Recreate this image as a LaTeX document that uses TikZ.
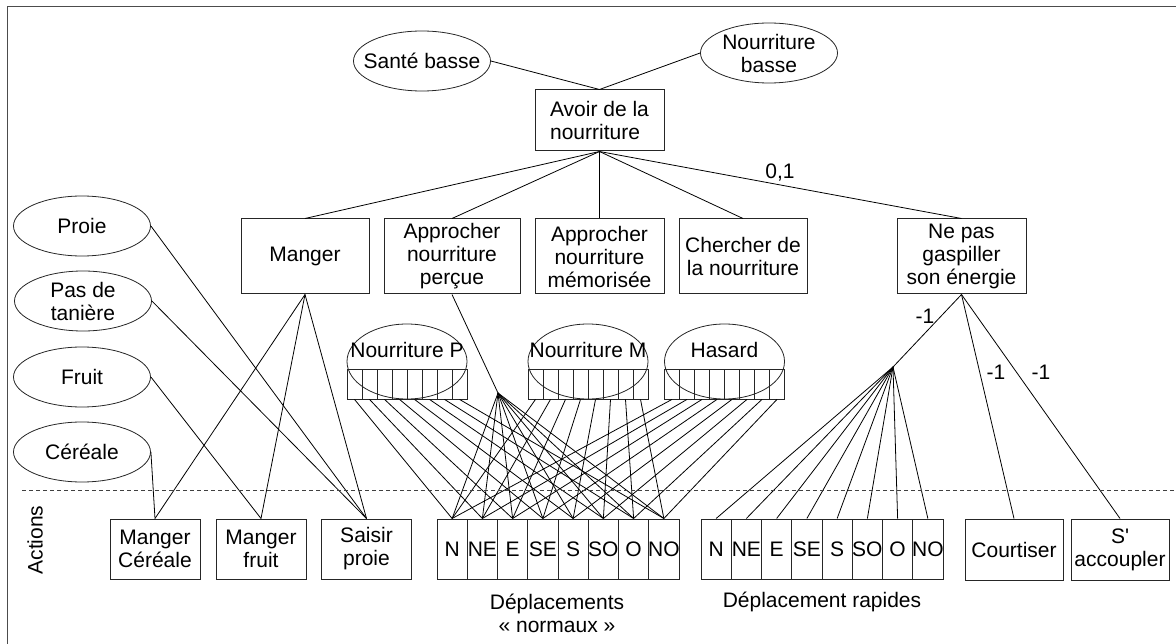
\documentclass[tikz,border=0pt]{standalone}
\usepackage{fontspec}
\setmainfont{Liberation Sans}
\usetikzlibrary{shapes.geometric}
\begin{document}
\begin{tikzpicture}[x=1pt,y=-1pt,
  font=\fontsize{21}{23}\selectfont,
  line width=0.8pt,
  box/.style={draw=black!85, line width=1pt, rectangle, align=center, inner sep=0pt,
    minimum width=128pt, minimum height=75pt},
  abox/.style={draw=black!85, line width=1pt, rectangle, align=center, inner sep=0pt,
    minimum width=90pt, minimum height=60pt},
  dbox/.style={draw=black!85, line width=1pt, rectangle, inner sep=0pt,
    minimum width=30.25pt, minimum height=60pt},
  cell/.style={draw=black!85, line width=0.8pt, rectangle, inner sep=0pt,
    minimum width=15pt, minimum height=30pt},
  oval/.style={draw=black!85, line width=0.8pt, ellipse, inner sep=0pt,
    minimum width=137pt, minimum height=60pt},
  bigoval/.style={draw=black!85, line width=0.8pt, ellipse, inner sep=0pt,
    minimum width=120pt, minimum height=75pt},
  conn/.style={draw=black, line width=0.8pt}
]
\useasboundingbox (0,0) rectangle (1176,644);
\draw[black!70, line width=1pt] (7,7) rectangle (1190,660);

% top ellipses and goal
\node[oval, label={center:Santé basse}] (sante) at (422,61) {};
\node[oval, label={[align=center]center:Nourriture\\basse}] (nbasse) at (769,53) {};
\node[box, minimum width=129pt, minimum height=61pt, align=left] (avoir) at (599.5,120.5) {Avoir de la\\nourriture};

% second level
\node[box] (manger) at (305,256.5) {Manger};
\node[box, minimum width=136pt] (appP) at (452,256.5) {Approcher\\nourriture\\perçue};
\node[box, minimum width=129pt] (appM) at (599.5,256.5) {Approcher\\nourriture\\mémorisée};
\node[box] (cherch) at (743,256.5) {Chercher de\\la nourriture};
\node[box, minimum width=129pt] (nepas) at (961.5,256.5) {Ne pas\\gaspiller\\son énergie};

% left ellipses
\node[oval, label={center:Proie}] (proie) at (82,226) {};
\node[oval, label={[align=center]center:Pas de\\tanière}] (taniere) at (83,301) {};
\node[oval, label={center:Fruit}] (fruit) at (82,377) {};
\node[oval, label={center:Céréale}] (cereale) at (82,452) {};

% actions
\node[abox] (mc) at (155,549) {Manger\\Céréale};
\node[abox] (mf) at (261,549) {Manger\\fruit};
\node[abox] (sp) at (366.5,549) {Saisir\\proie};
\node[abox, minimum width=98pt, minimum height=61pt] (court) at (1014,549.5) {Courtiser};
\node[abox, minimum width=98pt, minimum height=61pt] (accoup) at (1120,549.5) {S\textquotesingle\\accoupler};

\foreach \t [count=\i] in {N,NE,E,SE,S,SO,O,NO} {
  \node[dbox] (n\i) at ({437+30.25*(\i-0.5)},549) {\t};
  \node[dbox] (r\i) at ({701+30.25*(\i-0.5)},549) {\t};
}

% perception strips
\foreach \c/\cx/\txt in {P/407/Nourriture P, M/588/Nourriture M, H/724.5/Hasard} {
  \node[bigoval] (e\c) at (\cx,361.5) {};
  \node (t\c) at (\cx,350) {\txt};
  \foreach \i in {1,...,8} {
    \node[cell] (\c\i) at ({\cx-60+15*(\i-0.5)},384) {};
    \draw[conn] (\c\i.south) -- (n\i.north);
  }
}

% hubs
\coordinate (hubA) at (498,393);
\coordinate (hubB) at (893,367);

% connectors
\draw[conn] (sante.east) -- (avoir.north);
\draw[conn] (nbasse.west) -- (avoir.north);
\foreach \k in {manger,appP,appM,cherch,nepas} \draw[conn] (avoir.south) -- (\k.north);
\foreach \k in {mc,mf,sp} \draw[conn] (manger.south) -- (\k.north);
\draw[conn] (proie.east) -- (sp.north);
\draw[conn] (taniere.east) -- (sp.north);
\draw[conn] (fruit.east) -- (mf.north);
\draw[conn] (cereale.east) -- (mc.north);
\draw[conn] (appP.south) -- (hubA);
\foreach \i in {1,...,8} \draw[conn] (hubA) -- (n\i.north);
\draw[conn] (nepas.south) -- (hubB);
\foreach \i in {1,...,8} \draw[conn] (hubB) -- (r\i.north);
\draw[conn] (nepas.south) -- (court.north);
\draw[conn] (nepas.south) -- (accoup.north);

% labels
\node (l01) at (780,173) {0,1};
\node (lm1) at (925,316) {-1};
\node (lm2) at (996,372) {-1};
\node (lm3) at (1041,372) {-1};

% separator
\coordinate (dl) at (22,490);
\coordinate (dr) at (1176,490);
\draw[black!75, line width=0.8pt, dash pattern=on 4pt off 3pt] (dl) -- (dr);
\node[rotate=90] (act) at (35,540) {Actions};

\node[align=center] (dnorm) at (557,613.5) {Déplacements\\« normaux »};
\node (drap) at (822,602) {Déplacement rapides};
\end{tikzpicture}
\end{document}
